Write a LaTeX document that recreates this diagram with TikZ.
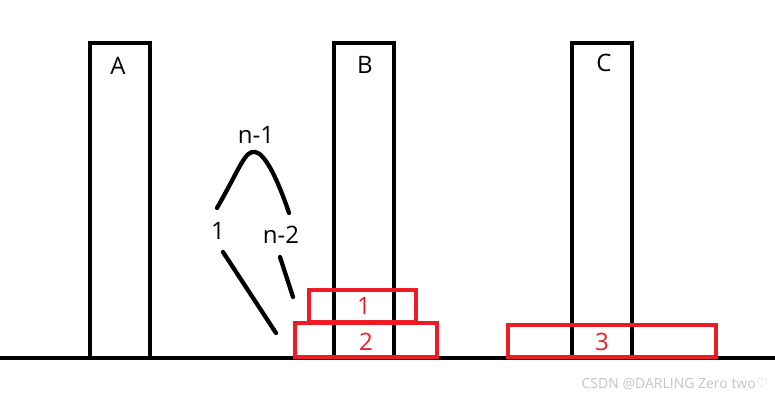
\documentclass[tikz,border=0pt]{standalone}
\usepackage{fontspec}
\setmainfont{Open Sans}
\newfontfamily\symfont{DejaVu Sans}
\definecolor{diskred}{HTML}{ED1C24}
\definecolor{wm}{HTML}{C4C4C4}
\begin{document}
\begin{tikzpicture}[x=0.75pt,y=-0.75pt,
  pillar/.style={draw=black,line width=3pt},
  disk/.style={draw=diskred,line width=3pt},
  ink/.style={draw=black,line width=3.2pt,line cap=round},
  lab/.style={font=\fontsize{18}{21}\selectfont,inner sep=0pt},
  rlab/.style={lab,text=diskred}]
\useasboundingbox (0,0) rectangle (775,400);
% ground
\coordinate (g0) at (0,357.5);
\coordinate (g1) at (775,357.5);
\draw[line width=3pt] (g0) -- (g1);
% pillars
\draw[pillar] (90,357) -- (90,43) -- (150,43) -- (150,357);
\draw[pillar] (334,357) -- (334,43) -- (394,43) -- (394,357);
\draw[pillar] (572,357) -- (572,43) -- (632,43) -- (632,357);
\node[lab] (A) at (118,66) {A};
\node[lab] (B) at (365,65) {B};
\node[lab] (C) at (604,63) {C};
% disks
\draw[disk] (309,290) rectangle (416,322);
\draw[disk] (295,323) rectangle (437,357);
\draw[disk] (508,325) rectangle (716,357);
\node[rlab] (d1) at (364,306) {1};
\node[rlab] (d2) at (366,342) {2};
\node[rlab] (d3) at (602,342) {3};
% curve and strokes
\coordinate (c0) at (217,208);
\coordinate (cp) at (255,152);
\coordinate (c1) at (289,213);
\draw[ink] (c0) .. controls (240,168) and (245,150) .. (cp) .. controls (265,153) and (278,180) .. (c1);
\node[lab] (n1) at (256,135) {n-1};
\node[lab] (one) at (218,231) {1};
\node[lab] (n2) at (281,235) {n-2};
\coordinate (s0) at (223,252);
\coordinate (s1) at (276,333);
\coordinate (t0) at (280,257);
\coordinate (t1) at (293,297);
\draw[ink] (s0) -- (s1);
\draw[ink] (t0) -- (t1);
% watermark
\node[text=wm,font=\fontsize{10.5}{12}\selectfont,inner sep=0pt] (wmk) at (675,384) {CSDN @DARLING Zero two{\symfont ♡}};
\end{tikzpicture}
\end{document}
